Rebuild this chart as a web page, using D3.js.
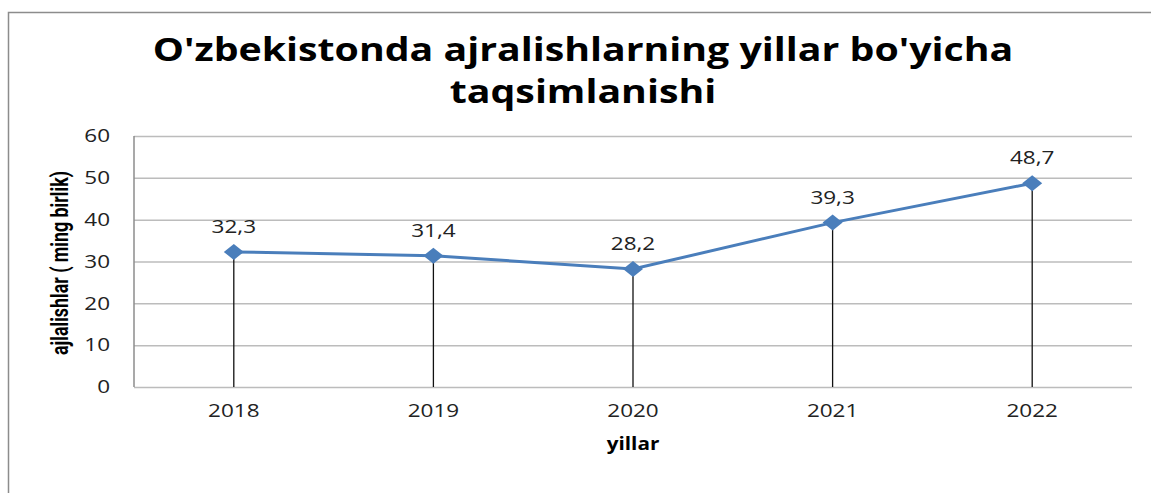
<!DOCTYPE html>
<html>
<head>
<meta charset="utf-8">
<script src="https://cdn.jsdelivr.net/npm/d3@7"></script>
<style>
  body { margin: 0; background: #fff; }
  svg { display: block; }
</style>
</head>
<body>
<div id="chart"></div>
<script>
// years and values (ming birlik)
const years = ["2018", "2019", "2020", "2021", "2022"];
const divorces = [32.3, 31.4, 28.2, 39.3, 48.7];
const yTicks = [0, 10, 20, 30, 40, 50, 60];

const W = 1151, H = 493;
const margin = { top: 136, right: 19, bottom: 106, left: 134 };
const width = W - margin.left - margin.right;
const height = H - margin.top - margin.bottom;

// the original text is drawn a bit wide, so stretch it horizontally around its anchor
function stretch(sel, sx) {
    sel.attr("transform", function () {
        const x = +this.getAttribute("x") || 0;
        return `translate(${x * (1 - sx)},0) scale(${sx},1)`;
    });
}

const svg = d3.select("#chart").append("svg")
    .attr("width", W)
    .attr("height", H);

// outer chart frame (runs off the right and bottom of the picture)
svg.append("rect")
    .attr("x", 8.5).attr("y", 12.5)
    .attr("width", W + 20).attr("height", H + 20)
    .attr("fill", "#fff")
    .attr("stroke", "#8c8c8c")
    .attr("stroke-width", 1.5);

// title
svg.selectAll(".title")
    .data(["O'zbekistonda ajralishlarning yillar bo'yicha", "taqsimlanishi"])
    .join("text")
    .attr("class", "title")
    .attr("x", 583)
    .attr("y", (d, i) => 61 + i * 42)
    .attr("text-anchor", "middle")
    .attr("font-family", "'Open Sans', sans-serif")
    .attr("font-weight", "bold")
    .attr("font-size", "33px")
    .attr("fill", "#000")
    .text(d => d)
    .call(stretch, 1.19);

const g = svg.append("g")
    .attr("transform", `translate(${margin.left},${margin.top})`);

const x = d3.scaleBand()
    .domain(years)
    .range([0, width]);

const y = d3.scaleLinear()
    .domain([0, 60])
    .range([height, 0]);

// gridlines
g.append("g")
    .call(d3.axisLeft(y).tickValues(yTicks).tickSize(-width).tickFormat(""))
    .call(a => a.select(".domain").remove())
    .selectAll("line")
    .attr("stroke", "#bcbcbc")
    .attr("stroke-width", 1.5);

// left axis line
g.append("line")
    .attr("x1", 0).attr("x2", 0)
    .attr("y1", 0).attr("y2", height)
    .attr("stroke", "#8c8c8c")
    .attr("stroke-width", 1.5);

// y tick labels
g.append("g")
    .call(d3.axisLeft(y).tickValues(yTicks).tickSize(0).tickPadding(24))
    .call(a => a.select(".domain").remove())
    .selectAll("text")
    .attr("font-family", "'Open Sans', sans-serif")
    .attr("font-size", "18px")
    .attr("fill", "#222")
    .call(stretch, 1.25);

// x tick labels
g.append("g")
    .attr("transform", `translate(0,${height})`)
    .call(d3.axisBottom(x).tickSize(0).tickPadding(17))
    .call(a => a.select(".domain").remove())
    .selectAll("text")
    .attr("font-family", "'Open Sans', sans-serif")
    .attr("font-size", "18px")
    .attr("fill", "#222")
    .call(stretch, 1.25);

const cx = d => x(d) + x.bandwidth() / 2;
const pts = years.map((yr, i) => ({ yr, v: divorces[i] }));

// drop lines
g.selectAll(".drop")
    .data(pts)
    .join("line")
    .attr("class", "drop")
    .attr("x1", d => cx(d.yr)).attr("x2", d => cx(d.yr))
    .attr("y1", d => y(d.v)).attr("y2", height)
    .attr("stroke", "#111")
    .attr("stroke-width", 1.3);

// series line
g.append("path")
    .datum(pts)
    .attr("fill", "none")
    .attr("stroke", "#4a7ebb")
    .attr("stroke-width", 3)
    .attr("d", d3.line().x(d => cx(d.yr)).y(d => y(d.v)));

// diamond markers
g.selectAll(".mark")
    .data(pts)
    .join("path")
    .attr("class", "mark")
    .attr("transform", d => `translate(${cx(d.yr)},${y(d.v)})`)
    .attr("d", "M0,-8L10,0L0,8L-10,0Z")
    .attr("fill", "#4a7ebb");

// value labels
g.selectAll(".lbl")
    .data(pts)
    .join("text")
    .attr("class", "lbl")
    .attr("x", d => cx(d.yr))
    .attr("y", d => y(d.v) - 19)
    .attr("text-anchor", "middle")
    .attr("font-family", "'Open Sans', sans-serif")
    .attr("font-size", "18px")
    .attr("fill", "#222")
    .text(d => d3.format(".1f")(d.v).replace(".", ","))
    .call(stretch, 1.25);

// axis titles
svg.append("text")
    .attr("transform", "translate(68,263) rotate(-90)")
    .attr("text-anchor", "middle")
    .attr("font-family", "'Liberation Sans Narrow', 'Roboto', sans-serif")
    .attr("font-weight", "bold")
    .attr("font-size", "23px")
    .attr("textLength", 184)
    .attr("lengthAdjust", "spacingAndGlyphs")
    .attr("fill", "#000")
    .text("ajlalishlar ( ming birlik)");

svg.append("text")
    .attr("x", margin.left + width / 2)
    .attr("y", 450)
    .attr("text-anchor", "middle")
    .attr("font-family", "'Open Sans', sans-serif")
    .attr("font-weight", "bold")
    .attr("font-size", "18px")
    .attr("fill", "#000")
    .text("yillar")
    .call(stretch, 1.15);
</script>
</body>
</html>
